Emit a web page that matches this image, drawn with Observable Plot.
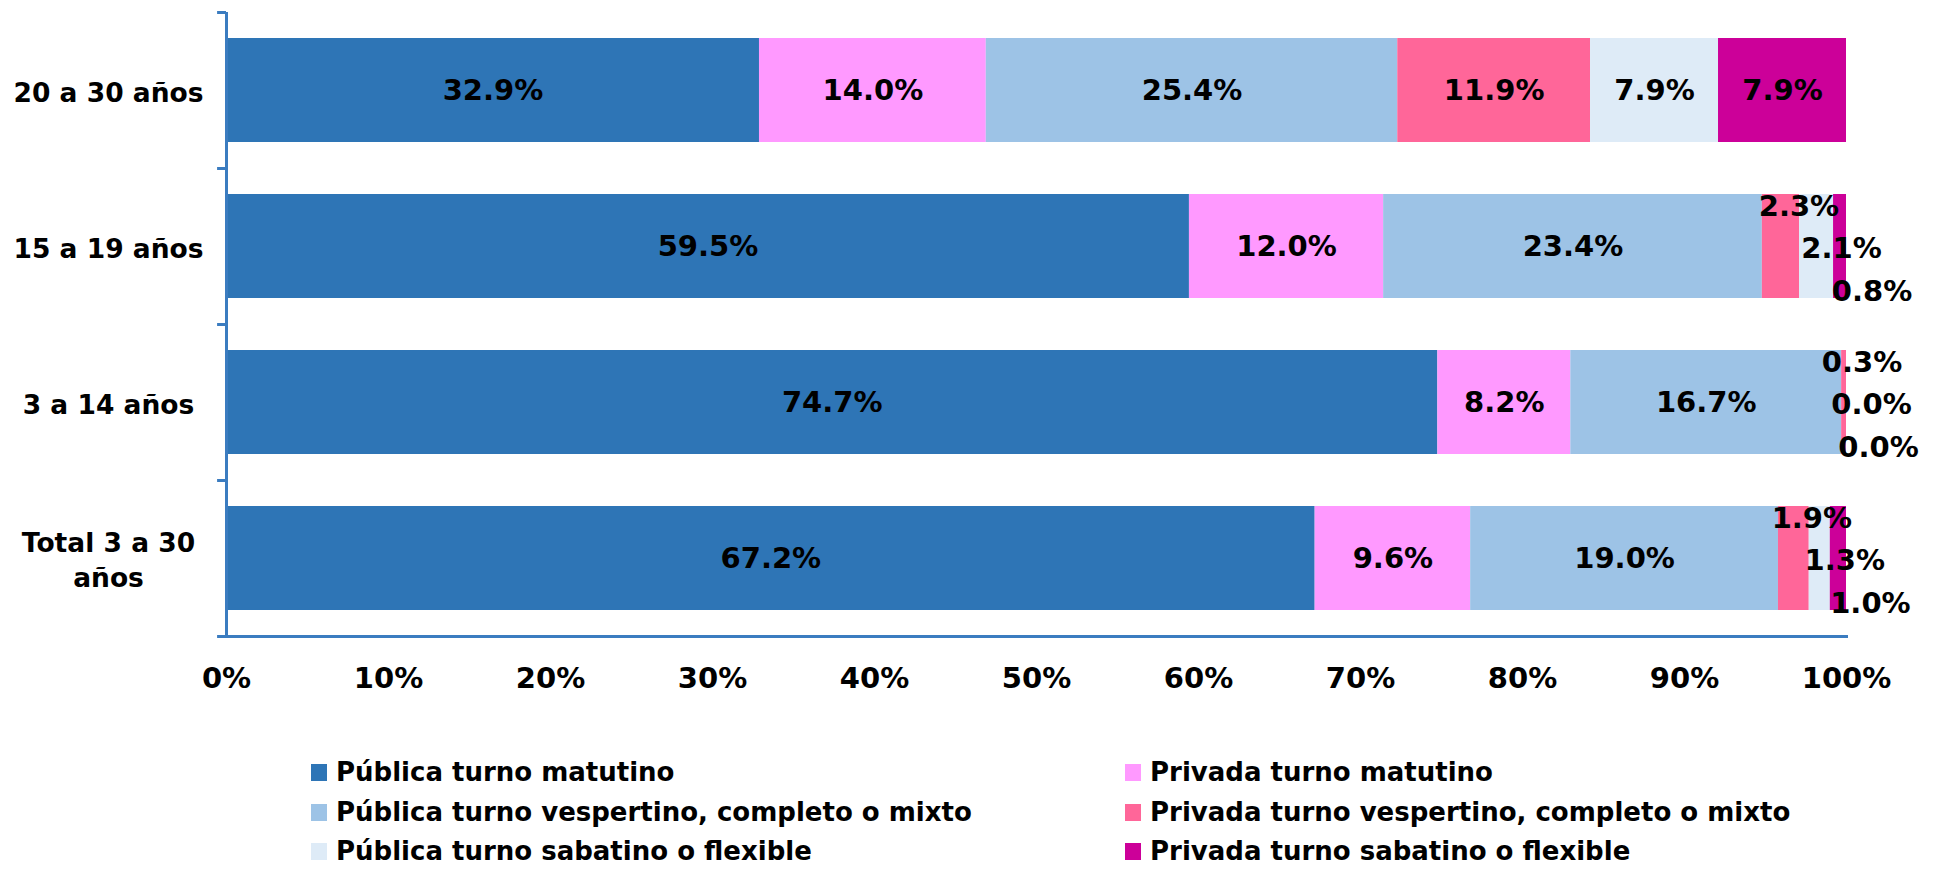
<!DOCTYPE html>
<html>
<head>
<meta charset="utf-8">
<script src="https://cdn.jsdelivr.net/npm/d3@7"></script>
<script src="https://cdn.jsdelivr.net/npm/@observablehq/plot@0.6"></script>
<style>
  html, body { margin: 0; padding: 0; background: #fff; }
  #chart { width: 1939px; }
  .legend { position: relative; width: 1939px; height: 149px; font-family: "DejaVu Sans", sans-serif; font-weight: bold; font-size: 26px; color: #000; }
  .legend .item { position: absolute; display: flex; align-items: center; height: 30px; white-space: nowrap; }
  .legend .sw { width: 16px; height: 17px; margin-right: 9px; }
</style>
</head>
<body>
<div id="chart"></div>
<script>
// ---- data ----
const categories = ["20 a 30 años", "15 a 19 años", "3 a 14 años", "Total 3 a 30\naños"];
const series = [
  "Pública turno matutino",
  "Privada turno matutino",
  "Pública turno vespertino, completo o mixto",
  "Privada turno vespertino, completo o mixto",
  "Pública turno sabatino o flexible",
  "Privada turno sabatino o flexible"
];
const publicaMatutino  = [32.9, 59.5, 74.7, 67.2];
const privadaMatutino  = [14.0, 12.0, 8.2, 9.6];
const publicaVespertino = [25.4, 23.4, 16.7, 19.0];
const privadaVespertino = [11.9, 2.3, 0.3, 1.9];
const publicaSabatino  = [7.9, 2.1, 0.0, 1.3];
const privadaSabatino  = [7.9, 0.8, 0.0, 1.0];
const xTicks = [0, 0.1, 0.2, 0.3, 0.4, 0.5, 0.6, 0.7, 0.8, 0.9, 1];

// ---- styles ----
const colors = ["#2E75B6", "#FF99FF", "#9DC3E6", "#FF6699", "#DEEBF7", "#CC0099"];
const axisColor = "#3B7CC0";
// outside-label offsets for the three thin series
const outsideOffsets = {3: {dx: 18, dy: -40}, 4: {dx: 25, dy: 2}, 5: {dx: 32, dy: 45}};

const seriesValues = [publicaMatutino, privadaMatutino, publicaVespertino, privadaVespertino, publicaSabatino, privadaSabatino];
const data = [];
categories.forEach((c, i) => {
  series.forEach((s, j) => {
    data.push({cat: c, series: s, si: j, value: seriesValues[j][i]});
  });
});
const fmt = v => v.toFixed(1) + "%";
const isSmall = d => d.value < 3;

const W = 1939, H = 720, mL = 226, mR = 93, mT = 12, mB = 84;
const step = (H - mT - mB) / categories.length;

const stackOpts = (extra) => Plot.stackX({x: "value", y: "cat", z: "series", order: series, offset: "normalize", ...extra});

const marks = [
  Plot.barX(data, stackOpts({fill: "series"})),
  Plot.text(data, stackOpts({text: d => isSmall(d) ? null : fmt(d.value), fill: "#000"})),
];
for (const k of [3, 4, 5]) {
  marks.push(Plot.text(data, stackOpts({
    text: d => (d.si === k && isSmall(d)) ? fmt(d.value) : null,
    fill: "#000", dx: outsideOffsets[k].dx, dy: outsideOffsets[k].dy
  })));
}
marks.push(
  Plot.ruleX([0], {stroke: axisColor, strokeWidth: 3}),
  Plot.frame({anchor: "bottom", stroke: axisColor, strokeWidth: 3}),
  Plot.ruleY(categories, {y: d => d, x1: -0.0055, x2: 0, stroke: axisColor, strokeWidth: 3, dy: -step / 2}),
  Plot.ruleY(categories.slice(-1), {y: d => d, x1: -0.0055, x2: 0, stroke: axisColor, strokeWidth: 3, dy: step / 2}),
  Plot.text(categories, {y: d => d, text: d => d, frameAnchor: "left", dx: -118, textAnchor: "middle", fontSize: 26.5, lineHeight: 1.3, fill: "#000"}),
  Plot.axisX({ticks: xTicks, tickSize: 0, tickPadding: 31, tickFormat: d3.format(".0%"), fill: "#000", label: null})
);

const chart = Plot.plot({
  width: W, height: H,
  marginLeft: mL, marginRight: mR, marginTop: mT, marginBottom: mB,
  x: {domain: [0, 1], axis: null, label: null},
  y: {domain: categories, paddingInner: 1 / 3, paddingOuter: 1 / 6, axis: null},
  color: {domain: series, range: colors},
  style: {fontFamily: "DejaVu Sans, sans-serif", fontWeight: "bold", fontSize: "29px", color: "#000", background: "#fff", overflow: "visible"},
  marks
});
document.getElementById("chart").appendChild(chart);

// ---- legend ----
const legend = document.createElement("div");
legend.className = "legend";
const colX = [311, 1125];
const rowCenters = [52, 92, 131];
series.forEach((s, j) => {
  const item = document.createElement("div");
  item.className = "item";
  item.style.left = colX[j % 2] + "px";
  item.style.top = (rowCenters[Math.floor(j / 2)] - 15) + "px";
  const sw = document.createElement("span");
  sw.className = "sw";
  sw.style.background = colors[j];
  const label = document.createElement("span");
  label.textContent = s;
  item.appendChild(sw);
  item.appendChild(label);
  legend.appendChild(item);
});
document.getElementById("chart").appendChild(legend);
</script>
</body>
</html>
